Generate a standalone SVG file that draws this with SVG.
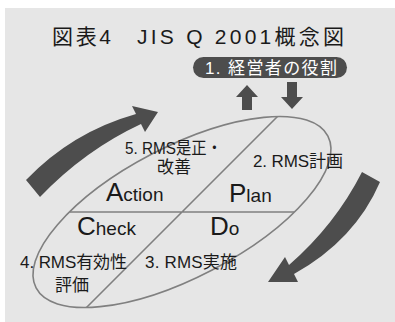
<svg xmlns="http://www.w3.org/2000/svg" width="395" height="322" viewBox="0 0 395 322">
<style>
.t{font-family:"Liberation Sans","Noto Sans CJK JP",sans-serif;fill:#1a1a1a}
.lbl{font-size:17px}
.big{font-size:26px}
.sm{font-size:19px}
.dark{fill:#4d4d4d}
.line{stroke:#808080;stroke-width:1.6;fill:none}
</style>
<rect x="0" y="0" width="395" height="322" fill="#ffffff"/>
<rect x="5" y="8" width="390" height="314" fill="#e6e6e6"/>
<g id="title">
<text class="t" x="52" y="44" font-size="21" textLength="59" lengthAdjust="spacing">図表4</text>
<text class="t" x="137" y="44" font-size="21" textLength="207" lengthAdjust="spacing">JIS Q 2001概念図</text>
</g>
<g id="role">
<rect class="dark" x="193" y="57" width="154" height="21" rx="10.5"/>
<text class="t" x="205" y="73.5" font-size="17" style="fill:#ffffff" textLength="132" lengthAdjust="spacing">1. 経営者の役割</text>
</g>
<g id="cycle">
<ellipse cx="182" cy="212" rx="164.5" ry="65.3" transform="rotate(-27.5 182 212)" fill="#ffffff" class="line"/>
<path class="line" d="M70,212 H294 M277.5,116.5 L86.5,307.5"/>
</g>
<g id="act">
<text class="t lbl" x="125" y="154" textLength="97" lengthAdjust="spacingAndGlyphs">5. RMS是正・</text>
<text class="t lbl" x="157" y="173">改善</text>
<text class="t" x="106" y="201"><tspan class="big">A</tspan><tspan class="sm">ction</tspan></text>
</g>
<g id="plan">
<text class="t lbl" x="253" y="167" textLength="90" lengthAdjust="spacing">2. RMS計画</text>
<text class="t" x="229" y="202"><tspan class="big">P</tspan><tspan class="sm">lan</tspan></text>
</g>
<g id="check">
<text class="t" x="77" y="235"><tspan class="big">C</tspan><tspan class="sm">heck</tspan></text>
<text class="t lbl" x="20" y="268" textLength="107" lengthAdjust="spacing">4. RMS有効性</text>
<text class="t lbl" x="55" y="291">評価</text>
</g>
<g id="do">
<text class="t" x="210" y="235"><tspan class="big">D</tspan><tspan class="sm">o</tspan></text>
<text class="t lbl" x="145" y="268" textLength="92" lengthAdjust="spacing">3. RMS実施</text>
</g>
<g id="connectors">
<path class="dark" d="M247,85 L258,97 L252,97 L252,110 L242,110 L242,97 L236,97 Z"/>
<path class="dark" d="M287,82 L297,82 L297,97 L303,97 L292,109 L281,97 L287,97 Z"/>
<path class="dark" d="M26,180 Q72,132 136,114 L132,106 L158,112 L145,132 L141,124 Q85,150 40,197 Z"/>
<path class="dark" d="M362,172 L380,182 Q355,240 294,274 L298,282 L268,282 L285,257 L289,265 Q335,225 362,172 Z"/>
</g>
</svg>
